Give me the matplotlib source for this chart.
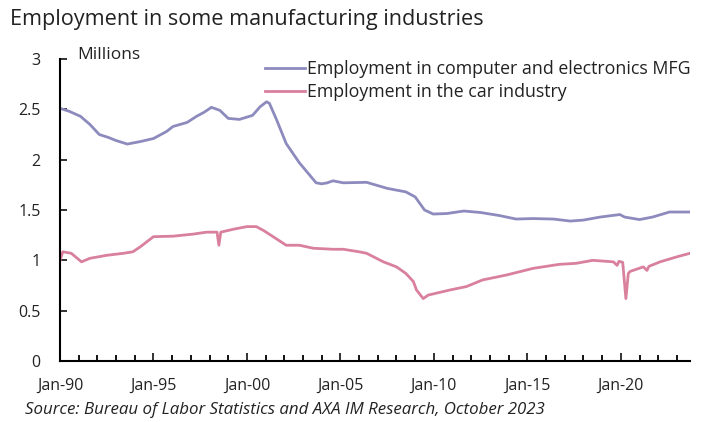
import matplotlib
matplotlib.use("Agg")
import matplotlib.pyplot as plt
from matplotlib.ticker import MultipleLocator, FixedLocator

plt.rcParams['font.family'] = ['Open Sans', 'DejaVu Sans']

# values (decimal years, millions)
computer_years = [1990.0, 1990.5, 1991.1, 1991.6, 1992.1, 1992.6, 1993.0, 1993.6, 1994.3, 1995.0,
                  1995.7, 1996.05, 1996.8, 1997.3, 1997.7, 1998.1, 1998.55, 1999.0, 1999.6, 2000.3,
                  2000.7, 2001.05, 2001.2, 2001.6, 2002.1, 2002.8, 2003.7, 2004.0, 2004.3, 2004.6,
                  2005.15, 2006.4, 2007.5, 2008.5, 2009.0, 2009.5, 2009.96, 2010.7, 2011.6, 2012.5,
                  2013.5, 2014.4, 2015.3, 2016.4, 2017.3, 2018.0, 2018.9, 2019.95, 2020.2, 2021.0,
                  2021.7, 2022.6, 2023.7]
computer_jobs = [2.51, 2.48, 2.43, 2.35, 2.25, 2.22, 2.19, 2.155, 2.18, 2.21,
                 2.28, 2.33, 2.37, 2.43, 2.47, 2.52, 2.49, 2.41, 2.40, 2.44,
                 2.525, 2.575, 2.56, 2.39, 2.16, 1.97, 1.77, 1.76, 1.77, 1.79,
                 1.77, 1.775, 1.715, 1.68, 1.63, 1.50, 1.46, 1.465, 1.49, 1.475,
                 1.445, 1.41, 1.415, 1.41, 1.39, 1.40, 1.43, 1.455, 1.43, 1.405,
                 1.43, 1.48, 1.48]

car_years = [1990.0, 1990.15, 1990.6, 1991.15, 1991.6, 1992.5, 1993.4, 1993.9, 1994.3, 1995.0,
             1996.05, 1997.1, 1997.85, 1998.4, 1998.5, 1998.6, 1999.3, 2000.0, 2000.5, 2000.9,
             2001.4, 2002.1, 2002.8, 2003.55, 2004.6, 2005.15, 2006.0, 2006.4, 2007.3, 2008.0,
             2008.5, 2008.9, 2009.07, 2009.43, 2009.7, 2010.85, 2011.75, 2012.6, 2013.9, 2015.3,
             2016.7, 2017.6, 2018.5, 2019.6, 2019.8, 2019.9, 2020.1, 2020.27, 2020.4, 2020.5,
             2021.2, 2021.4, 2021.5, 2022.1, 2023.0, 2023.7]
car_jobs = [1.00, 1.085, 1.07, 0.985, 1.02, 1.05, 1.07, 1.085, 1.135, 1.235,
            1.24, 1.26, 1.28, 1.28, 1.15, 1.28, 1.31, 1.335, 1.335, 1.295,
            1.235, 1.15, 1.15, 1.12, 1.11, 1.11, 1.085, 1.07, 0.985, 0.935,
            0.87, 0.79, 0.705, 0.62, 0.655, 0.705, 0.74, 0.805, 0.855, 0.92,
            0.96, 0.97, 1.00, 0.985, 0.95, 0.99, 0.98, 0.62, 0.87, 0.89,
            0.935, 0.90, 0.94, 0.985, 1.035, 1.07]

tick_years = [1990, 1995, 2000, 2005, 2010, 2015, 2020]
tick_labels = ["Jan-90", "Jan-95", "Jan-00", "Jan-05", "Jan-10", "Jan-15", "Jan-20"]

purple = "#8d8bbd"
pink = "#d9809d"

fig = plt.figure(figsize=(7.04, 4.22), dpi=100)
ax = fig.add_axes([60 / 704, 1 - 361 / 422, 630 / 704, 302 / 422])

ax.plot(computer_years, computer_jobs, color=purple, lw=2.0,
        label="Employment in computer and electronics MFG")
ax.plot(car_years, car_jobs, color=pink, lw=2.0,
        label="Employment in the car industry")

ax.set_xlim(1990, 2023.7)
ax.set_ylim(0, 3)
ax.yaxis.set_major_locator(MultipleLocator(0.5))
ax.yaxis.set_major_formatter(plt.FuncFormatter(lambda v, p: f"{v:g}"))
ax.xaxis.set_major_locator(FixedLocator(tick_years))
ax.set_xticklabels(tick_labels)
ax.xaxis.set_minor_locator(MultipleLocator(1))

for s in ["top", "right"]:
    ax.spines[s].set_visible(False)
for s in ["left", "bottom"]:
    ax.spines[s].set_linewidth(1.5)
    ax.spines[s].set_color("black")

ax.tick_params(axis="y", direction="in", length=5, width=1.3, labelsize=11.5, pad=14, colors="#222222")
ax.tick_params(axis="x", which="major", direction="in", length=6, width=1.3, labelsize=11.5, pad=12,
               colors="#222222")
ax.tick_params(axis="x", which="minor", direction="in", length=4, width=1.3)

ax.legend(loc="upper left", bbox_to_anchor=(265 / 704, 1 - 60 / 422), bbox_transform=fig.transFigure,
          frameon=False, borderaxespad=0, borderpad=0, handlelength=2.25, handletextpad=0.1,
          labelspacing=0.28, fontsize=12.8, labelcolor="#222222")

fig.text(77 / 704, 1 - 55 / 422, "Millions", fontsize=12.5, va="center", ha="left", color="#222222")
fig.text(10 / 704, 1 - 20 / 422, "Employment in some manufacturing industries", fontsize=15.6,
         va="center", ha="left", color="#222222")
fig.text(25 / 704, 1 - 410 / 422, "Source: Bureau of Labor Statistics and AXA IM Research, October 2023",
         fontsize=12.2, style="italic", va="center", ha="left", color="#222222")

fig.savefig("out.png", dpi=100)
